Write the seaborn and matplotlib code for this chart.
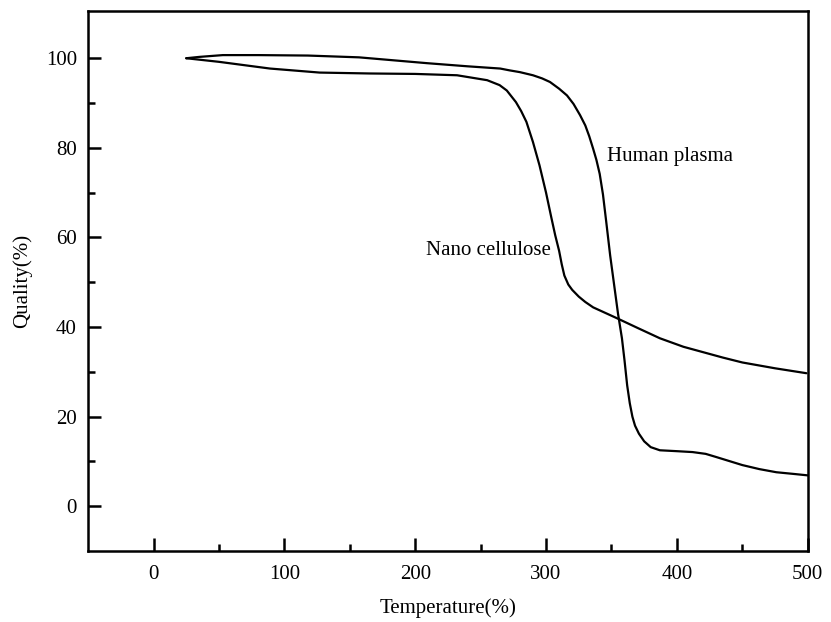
import matplotlib
matplotlib.use("Agg")
import matplotlib.pyplot as plt
import seaborn as sns
import pandas as pd

# Data
plasma_temp = [25, 35, 53, 80, 118, 157, 209, 240, 265, 272, 280, 290, 297, 303,
               310, 316, 321, 326, 330, 333, 336, 338.5, 341, 343.5, 346, 349,
               352, 355, 358, 360, 362, 364, 366, 368, 371, 375, 380, 387, 400,
               412, 422, 430, 440, 450, 463, 476, 490, 500]
plasma_quality = [100, 100.3, 100.7, 100.7, 100.6, 100.2, 98.9, 98.2, 97.7, 97.3,
                  96.9, 96.2, 95.5, 94.7, 93.2, 91.7, 89.8, 87.3, 85, 82.6, 79.8,
                  77.3, 74.2, 69.6, 63.5, 56, 49.5, 43, 37.5, 32.5, 27, 23, 20, 18,
                  16.2, 14.5, 13.2, 12.5, 12.3, 12.1, 11.7, 11, 10.1, 9.2, 8.3,
                  7.6, 7.2, 6.9]

cellulose_temp = [25, 50, 89, 127, 165, 200, 232, 255, 264.5, 270, 277, 281, 285,
                  290, 295, 300, 304, 307, 310, 312, 314, 317, 320, 325, 330, 336,
                  345, 354, 370, 387, 405, 420, 435, 450, 475, 499]
cellulose_quality = [100, 99.2, 97.7, 96.8, 96.6, 96.5, 96.2, 95.1, 94.0, 92.8,
                     90.2, 88.2, 85.8, 81.3, 76.1, 70, 64.5, 60.5, 57, 54, 51.5,
                     49.5, 48.3, 46.8, 45.6, 44.4, 43.2, 42.0, 39.8, 37.5, 35.6,
                     34.4, 33.2, 32.1, 30.8, 29.7]

df = pd.concat([
    pd.DataFrame({"temp": plasma_temp, "quality": plasma_quality, "sample": "Human plasma"}),
    pd.DataFrame({"temp": cellulose_temp, "quality": cellulose_quality, "sample": "Nano cellulose"}),
])

sns.set_style("ticks")
plt.rcParams["font.family"] = ["Liberation Serif", "DejaVu Serif"]
plt.rcParams["text.color"] = "black"
plt.rcParams["axes.labelcolor"] = "black"
plt.rcParams["xtick.color"] = "black"
plt.rcParams["ytick.color"] = "black"
plt.rcParams["axes.edgecolor"] = "black"

fig = plt.figure(figsize=(8.31, 6.22), dpi=100)
ax = fig.add_axes([0.106, 0.114, 0.866, 0.868])

sns.lineplot(data=df, x="temp", y="quality", units="sample", estimator=None,
             sort=False, color="black", linewidth=1.6, ax=ax, legend=False)

ax.set_xlim(-50, 500)
ax.set_ylim(-10, 110.5)
ax.set_xticks([0, 100, 200, 300, 400, 500])
ax.set_xticks([50, 150, 250, 350, 450], minor=True)
ax.set_yticks([0, 20, 40, 60, 80, 100])
ax.set_yticks([10, 30, 50, 70, 90], minor=True)

ax.tick_params(which="major", direction="in", length=9.5, width=1.8, labelsize=15, pad=8)
ax.tick_params(which="minor", direction="in", length=5, width=1.8)
ax.tick_params(axis="x", pad=10)
for s in ax.spines.values():
    s.set_linewidth(1.8)

ax.set_xlabel("Temperature(%)", fontsize=15, labelpad=10)
ax.set_ylabel("Quality(%)", fontsize=15, labelpad=10)

ax.text(346.5, 78, "Human plasma", fontsize=15, ha="left", va="center")
ax.text(304, 57, "Nano cellulose", fontsize=15, ha="right", va="center")

fig.savefig("out.png", dpi=100)
